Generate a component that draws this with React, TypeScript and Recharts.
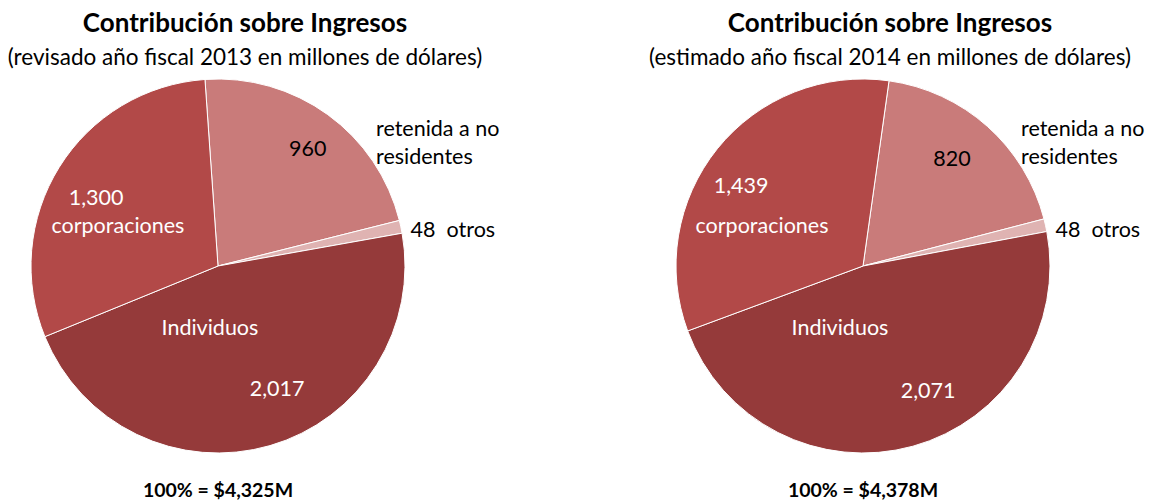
import { PieChart, Pie, Cell } from 'recharts';

// slice order, clockwise from the top boundary
const categories = ['retenida a no residentes', 'otros', 'Individuos', 'corporaciones'];
const values2013 = [960, 48, 2017, 1300];
const values2014 = [820, 48, 2071, 1439];
const valueLabels2013 = ['960', '48', '2,017', '1,300'];
const valueLabels2014 = ['820', '48', '2,071', '1,439'];
const titles = ['Contribución sobre Ingresos', 'Contribución sobre Ingresos'];
const subtitles = [
  '(revisado año fiscal 2013 en millones de dólares)',
  '(estimado año fiscal 2014 en millones de dólares)',
];
const totals = ['100% = $4,325M', '100% = $4,378M'];

const COLORS = ['#C97B7A', '#DFB3B2', '#953A3A', '#B24948'];
const FONT = 'Lato, "Open Sans", sans-serif';
const R = 187;
const LABEL_SIZE = 21.5;

// label placement, in units of the radius, relative to the pie centre
// [valueX, valueY, nameX, nameY] per slice
const layout2013 = [
  [0.48, -0.63, 0.845, -0.74],
  [1.03, -0.2, 1.03, -0.2],
  [0.316, 0.652, -0.043, 0.326],
  [-0.652, -0.369, -0.535, -0.219],
];
const layout2014 = [
  [0.476, -0.578, 0.845, -0.74],
  [1.03, -0.2, 1.03, -0.2],
  [0.348, 0.663, -0.123, 0.326],
  [-0.652, -0.433, -0.54, -0.219],
];

const toData = (vals: number[], labels: string[]) =>
  categories.map((name, i) => ({ name, value: vals[i], label: labels[i] }));

const data2013 = toData(values2013, valueLabels2013);
const data2014 = toData(values2014, valueLabels2014);

const makeLabel = (layout: number[][]) => (p: any) => {
  const { cx, cy, outerRadius, index, payload } = p;
  const [vx, vy, nx, ny] = layout[index];
  const r = outerRadius;
  const common = { fontFamily: FONT, fontSize: LABEL_SIZE, dominantBaseline: 'central' as const };
  if (index === 0) {
    return (
      <g key={`l${index}`}>
        <text x={cx + vx * r} y={cy + vy * r} textAnchor="middle" fill="#000" {...common}>
          {payload.label}
        </text>
        <text x={cx + nx * r} y={cy + ny * r} textAnchor="start" fill="#000" {...common}>
          retenida a no
        </text>
        <text x={cx + nx * r} y={cy + ny * r + 28} textAnchor="start" fill="#000" {...common}>
          residentes
        </text>
      </g>
    );
  }
  if (index === 1) {
    return (
      <text key={`l${index}`} x={cx + vx * r} y={cy + vy * r} textAnchor="start" fill="#000" {...common} xmlSpace="preserve">
        {`${payload.label}  ${payload.name}`}
      </text>
    );
  }
  return (
    <g key={`l${index}`}>
      <text x={cx + vx * r} y={cy + vy * r} textAnchor="middle" fill="#fff" {...common}>
        {payload.label}
      </text>
      <text x={cx + nx * r} y={cy + ny * r} textAnchor="middle" fill="#fff" {...common}>
        {payload.name}
      </text>
    </g>
  );
};

const centers = [218, 863];

export default function App() {
  return (
    <div style={{ position: 'absolute', left: 0, top: 0, width: 1158, height: 501, background: '#fff', fontFamily: FONT }}>
      <PieChart width={1158} height={501} margin={{ top: 0, right: 0, bottom: 0, left: 0 }}>
        <Pie
          data={data2013}
          dataKey="value"
          nameKey="name"
          cx={218}
          cy={266}
          outerRadius={R}
          startAngle={94}
          endAngle={-266}
          stroke="#fff"
          strokeWidth={1}
          label={makeLabel(layout2013)}
          labelLine={false}
          isAnimationActive={false}
        >
          {data2013.map((d, i) => (
            <Cell key={d.name} fill={COLORS[i]} />
          ))}
        </Pie>
        <Pie
          data={data2014}
          dataKey="value"
          nameKey="name"
          cx={863}
          cy={266}
          outerRadius={R}
          startAngle={82}
          endAngle={-278}
          stroke="#fff"
          strokeWidth={1}
          label={makeLabel(layout2014)}
          labelLine={false}
          isAnimationActive={false}
        >
          {data2014.map((d, i) => (
            <Cell key={d.name} fill={COLORS[i]} />
          ))}
        </Pie>
      </PieChart>
      {[0, 1].map((k) => (
        <div key={k}>
          <div style={{ position: 'absolute', left: centers[k] + 27 - 290, width: 580, top: 6, textAlign: 'center', fontWeight: 700, fontSize: 26, lineHeight: '32px' }}>
            {titles[k]}
          </div>
          <div style={{ position: 'absolute', left: centers[k] + 27 - 290, width: 580, top: 43, textAlign: 'center', fontSize: 22.5, lineHeight: '28px' }}>
            {subtitles[k]}
          </div>
          <div style={{ position: 'absolute', left: centers[k] - 290, width: 580, top: 477, textAlign: 'center', fontWeight: 700, fontSize: 19.5, lineHeight: '26px' }}>
            {totals[k]}
          </div>
        </div>
      ))}
    </div>
  );
}
